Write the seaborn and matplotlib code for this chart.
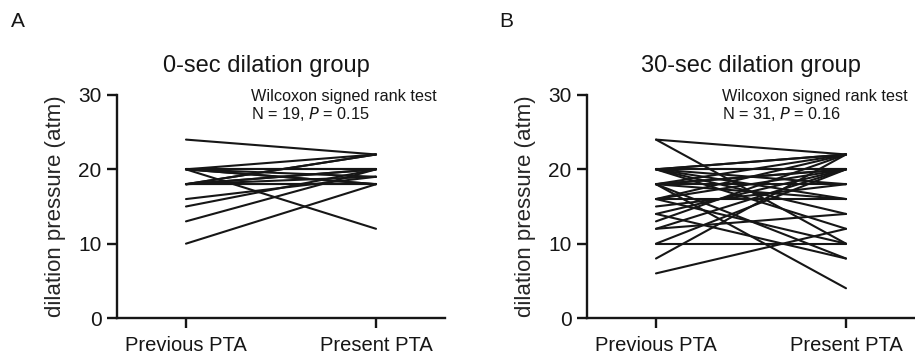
import matplotlib
matplotlib.use("Agg")
import matplotlib.pyplot as plt
import seaborn as sns
import pandas as pd
import numpy as np

sns.set_theme(style="ticks")
plt.rcParams['font.family'] = ['Liberation Sans', 'DejaVu Sans']

categories = ["Previous PTA", "Present PTA"]

# 0-sec dilation group (N = 19)
a_previous = [24, 20, 20, 20, 20, 20, 20, 20, 18, 18, 18, 18, 18, 18, 18, 16, 15, 13, 10]
a_present  = [22, 22, 20, 20, 18, 12, 19, 18, 22, 20, 18, 19, 20, 18, 22, 19, 20, 20, 18]

# 30-sec dilation group (N = 31)
b_previous = [24, 24, 20, 20, 20, 20, 20, 20, 20, 20, 18, 18, 18, 18, 18, 18, 18,
              16, 16, 16, 16, 15, 14, 14, 13, 12, 12, 10, 10, 8, 6]
b_present  = [22, 10, 22, 22, 20, 20, 18, 16, 14, 12, 22, 20, 20, 18, 4, 16, 8,
              16, 22, 20, 10, 18, 20, 8, 22, 20, 14, 10, 20, 22, 12]

titles = ["0-sec dilation group", "30-sec dilation group"]
stats = [("Wilcoxon signed rank test", "19", "0.15"),
         ("Wilcoxon signed rank test", "31", "0.16")]
panel_letters = ["A", "B"]
yticks = [0, 10, 20, 30]


def long_df(prev, post):
    rows = []
    for i, (p, q) in enumerate(zip(prev, post)):
        rows.append({"subject": i, "x": 0, "value": p})
        rows.append({"subject": i, "x": 1, "value": q})
    return pd.DataFrame(rows)


W, H = 915, 362
fig = plt.figure(figsize=(W / 100, H / 100), dpi=100)

axes_px = [(117, 95, 328, 223), (587, 95, 328, 223)]
title_x = [266, 751]
stat_x = [251, 722]
letter_x = [18, 506]
ink = "#161616"

for k, (prev, post) in enumerate([(a_previous, a_present), (b_previous, b_present)]):
    l, t, w, h = axes_px[k]
    ax = fig.add_axes([l / W, 1 - (t + h) / H, w / W, h / H])
    df = long_df(prev, post)
    sns.lineplot(data=df, x="x", y="value", units="subject", estimator=None,
                 color=ink, linewidth=1.5, ax=ax, legend=False)
    ax.set_xlim(-0.363, 1.363)
    ax.set_ylim(0, 30)
    ax.set_xticks([0, 1])
    ax.set_xticklabels(categories, fontsize=14.5)
    ax.set_yticks(yticks)
    ax.set_yticklabels([str(v) for v in yticks], fontsize=15)
    ax.set_xlabel("")
    ax.set_ylabel("dilation pressure (atm)", fontsize=16, labelpad=9)
    for s in ["top", "right"]:
        ax.spines[s].set_visible(False)
    for s in ["left", "bottom"]:
        ax.spines[s].set_linewidth(1.7)
        ax.spines[s].set_color(ink)
    ax.tick_params(axis="both", direction="out", length=7, width=1.7, color=ink,
                   labelcolor=ink, pad=4)
    ax.tick_params(axis="x", pad=6)
    ax.patch.set_alpha(0)

    fig.text(title_x[k] / W, 1 - 72 / H, titles[k], ha="center", va="baseline",
             fontsize=17, color=ink)
    fig.text(stat_x[k] / W, 1 - 101 / H, stats[k][0], ha="left", va="baseline",
             fontsize=11.7, color=ink)
    fig.text(stat_x[k] / W, 1 - 119 / H,
             "N = " + stats[k][1] + ", $\\it{P}$ = " + stats[k][2],
             ha="left", va="baseline", fontsize=11.7, color=ink)
    fig.text(letter_x[k] / W, 1 - 27 / H, panel_letters[k], ha="center", va="baseline",
             fontsize=15, color=ink)

fig.savefig("out.png", dpi=100, facecolor="white")
